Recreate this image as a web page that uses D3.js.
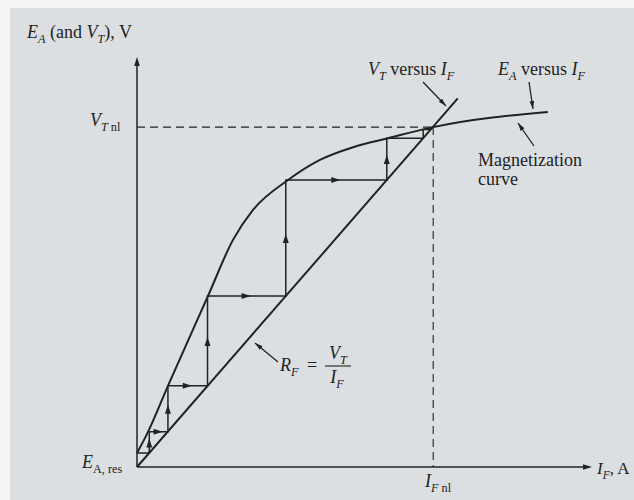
<!DOCTYPE html>
<html><head><meta charset="utf-8">
<script src="https://cdn.jsdelivr.net/npm/d3@7"></script>
<style>html,body{margin:0;padding:0;background:#fff;}svg{display:block;}</style>
</head><body>
<script>
// ---- data (field current I_F and voltage, arbitrary units 0..100) ----
const magnetI = [0, 2.4, 6.8, 15.6, 21.1, 25.5, 33.2, 40.2, 47.5, 55.2, 65.1, 90.3];
const magnetE = [3.4, 8.5, 19.8, 41.7, 55.4, 62.7, 70.0, 74.9, 78.0, 80.2, 82.9, 86.6];
const resistI = [0, 70.5];
const resistV = [0, 89.9];
const stepI = [0, 2.7, 2.7, 6.8, 6.8, 15.5, 15.5, 32.7, 32.7, 54.9, 54.9, 62.9, 62.9, 64.6];
const stepV = [3.4, 3.4, 8.6, 8.6, 19.8, 19.8, 41.7, 41.7, 70.0, 70.0, 80.2, 80.2, 82.3, 82.3];
const nominalI = 65.1, nominalV = 82.9;
const axisMax = 100;

const W = 634, H = 500;
const ink = "#222";
const serif = "'Liberation Serif','DejaVu Serif',serif";
const FS = 18;

const svg = d3.select("body").append("svg").attr("width", W).attr("height", H);
svg.append("rect").attr("width", W).attr("height", H).attr("fill", "#f4f4f4");
svg.append("rect").attr("x", 10).attr("y", 8).attr("width", W - 10).attr("height", H - 8).attr("fill", "#dcdfe1");

const x = d3.scaleLinear().domain([0, axisMax]).range([137, 592]);
const y = d3.scaleLinear().domain([0, axisMax]).range([467, 57]);

function arrowHead(g, tx, ty, ang, len, hw) {
  const c = Math.cos(ang), s = Math.sin(ang);
  const bx = tx - c * len, by = ty - s * len;
  g.append("path")
    .attr("d", `M${tx},${ty}L${bx - s * hw},${by + c * hw}L${bx + s * hw},${by - c * hw}Z`)
    .attr("fill", ink);
}

// axes
svg.append("line").attr("x1", x(0)).attr("y1", y(0)).attr("x2", x(0)).attr("y2", y(axisMax) + 4)
  .attr("stroke", ink).attr("stroke-width", 1.5);
svg.append("line").attr("x1", x(0)).attr("y1", y(0)).attr("x2", x(axisMax) - 4).attr("y2", y(0))
  .attr("stroke", ink).attr("stroke-width", 1.5);
arrowHead(svg, x(0), y(axisMax), -Math.PI / 2, 9, 2.8);
arrowHead(svg, x(axisMax), y(0), 0, 9, 2.8);

// dashed guides
svg.append("line").attr("x1", x(0)).attr("y1", y(nominalV)).attr("x2", x(nominalI)).attr("y2", y(nominalV))
  .attr("stroke", ink).attr("stroke-width", 1.1).attr("stroke-dasharray", "8,5");
svg.append("line").attr("x1", x(nominalI)).attr("y1", y(nominalV)).attr("x2", x(nominalI)).attr("y2", y(0))
  .attr("stroke", ink).attr("stroke-width", 1.1).attr("stroke-dasharray", "8,5");

// resistance line
svg.append("line").attr("x1", x(resistI[0])).attr("y1", y(resistV[0]))
  .attr("x2", x(resistI[1])).attr("y2", y(resistV[1]))
  .attr("stroke", ink).attr("stroke-width", 2);

// magnetization curve
const magPts = magnetI.map((d, i) => [d, magnetE[i]]);
svg.append("path").datum(magPts)
  .attr("d", d3.line().x(d => x(d[0])).y(d => y(d[1])).curve(d3.curveMonotoneX))
  .attr("fill", "none").attr("stroke", ink).attr("stroke-width", 2);

// staircase
const stepPts = stepI.map((d, i) => [d, stepV[i]]);
svg.append("path").datum(stepPts)
  .attr("d", d3.line().x(d => x(d[0])).y(d => y(d[1])))
  .attr("fill", "none").attr("stroke", ink).attr("stroke-width", 1.5);
for (let i = 0; i < stepPts.length - 1; i++) {
  const x0 = x(stepPts[i][0]), y0 = y(stepPts[i][1]);
  const x1 = x(stepPts[i + 1][0]), y1 = y(stepPts[i + 1][1]);
  const L = Math.hypot(x1 - x0, y1 - y0);
  if (L < 15 || i >= 10) continue;
  const ang = Math.atan2(y1 - y0, x1 - x0);
  const mx = (x0 + x1) / 2 + Math.cos(ang) * 4, my = (y0 + y1) / 2 + Math.sin(ang) * 4;
  arrowHead(svg, mx, my, ang, 9, 3);
}

// rich text helper: segments [text, italic, sub]
function rich(px, py, segs, size, anchor) {
  const t = svg.append("text").attr("x", px).attr("y", py)
    .attr("font-family", serif).attr("font-size", size).attr("fill", ink)
    .attr("text-anchor", anchor || "start");
  let prevSub = false;
  segs.forEach(([txt, it, sub]) => {
    const ts = t.append("tspan").text(txt).attr("font-style", it ? "italic" : "normal");
    if (sub) ts.attr("font-size", size * 0.68);
    if (sub && !prevSub) ts.attr("dy", size * 0.28);
    if (!sub && prevSub) ts.attr("dy", -size * 0.28);
    prevSub = sub;
  });
  return t;
}

// axis titles
rich(27, 38, [["E", true, false], ["A", true, true], [" (and ", false, false], ["V", true, false], ["T", true, true], ["), V", false, false]], FS);
rich(597, y(0) + 7, [["I", true, false], ["F", true, true], [", A", false, false]], 17);
rich(90, y(nominalV) - 1, [["V", true, false], ["T", true, true], [" nl", false, true]], FS);
rich(82, y(0) + 1, [["E", true, false], ["A, res", false, true]], FS);
rich(425, y(0) + 20, [["I", true, false], ["F", true, true], [" nl", false, true]], FS);

// curve labels
rich(368, 75, [["V", true, false], ["T", true, true], [" versus ", false, false], ["I", true, false], ["F", true, true]], FS);
rich(498, 75, [["E", true, false], ["A", true, true], [" versus ", false, false], ["I", true, false], ["F", true, true]], FS);
svg.append("text").attr("x", 478).attr("y", 166).attr("font-family", serif).attr("font-size", FS).attr("fill", ink).text("Magnetization");
svg.append("text").attr("x", 478).attr("y", 185).attr("font-family", serif).attr("font-size", FS).attr("fill", ink).text("curve");

// pointers
function pointer(x0, y0, x1, y1) {
  svg.append("line").attr("x1", x0).attr("y1", y0).attr("x2", x1).attr("y2", y1)
    .attr("stroke", ink).attr("stroke-width", 1.3);
  arrowHead(svg, x1, y1, Math.atan2(y1 - y0, x1 - x0), 8, 2.3);
}
pointer(423, 82, 446, 106);
pointer(529, 82, 533, 109);
pointer(534, 146, 518, 123);
pointer(278, 362, 255, 343);

// R_F = V_T / I_F
rich(280, 371, [["R", true, false], ["F", true, true]], FS);
svg.append("text").attr("x", 307).attr("y", 371).attr("font-family", serif).attr("font-size", FS).attr("fill", ink).text("=");
rich(338, 359, [["V", true, false], ["T", true, true]], FS, "middle");
svg.append("line").attr("x1", 325).attr("x2", 351).attr("y1", 366).attr("y2", 366).attr("stroke", ink).attr("stroke-width", 1.1);
rich(337, 383, [["I", true, false], ["F", true, true]], FS, "middle");
</script>
</body></html>
